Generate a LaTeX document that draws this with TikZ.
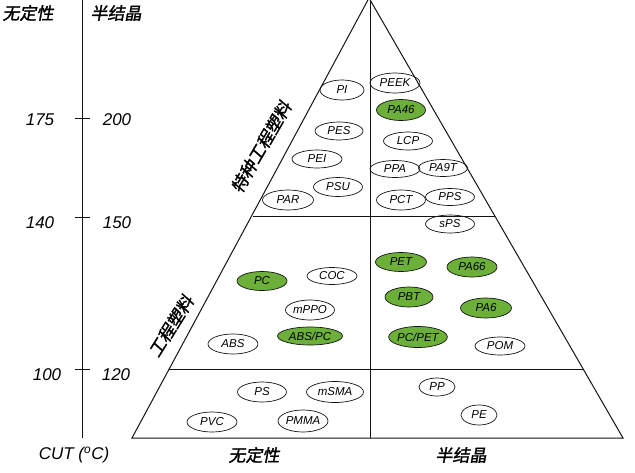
\documentclass[tikz,border=0pt]{standalone}
\usepackage{fontspec}
\setmainfont{Liberation Sans}
\newfontfamily\cjk[FakeSlant=0.18,FakeBold=1.5]{Noto Sans CJK SC}
\usetikzlibrary{shapes.geometric}
\definecolor{pgreen}{RGB}{108,176,58}
\definecolor{lineblk}{RGB}{20,20,20}
\begin{document}
\begin{tikzpicture}[x=1pt,y=-1pt,
  ell/.style={ellipse,draw=lineblk,line width=0.7pt,inner sep=0pt,font=\fontsize{11.5}{12}\selectfont\itshape},
  gell/.style={ell,fill=pgreen},
  frame/.style={draw=lineblk,line width=1pt},
  num/.style={font=\fontsize{17}{18}\selectfont\itshape,inner sep=0pt},
  zh/.style={font=\fontsize{17}{18}\selectfont\cjk,inner sep=0pt}]
\useasboundingbox[fill=white] (0,0) rectangle (635,472);
% triangle
\coordinate (apex) at (369,-2);
\coordinate (bl) at (132,438);
\coordinate (br) at (623,438);
\coordinate (l1) at (253,216);
\coordinate (r1) at (495,216);
\coordinate (l2) at (169,369);
\coordinate (r2) at (583,369);
\coordinate (vtop) at (370,-2);
\coordinate (vbot) at (370,438);
\draw[frame] (apex) -- (bl) -- (br) -- cycle;
\draw[frame] (l1) -- (r1);
\draw[frame] (l2) -- (r2);
\draw[frame] (vtop) -- (vbot);
% axis
\coordinate (atop) at (82,0);
\coordinate (abot) at (82,438);
\draw[frame] (atop) -- (abot);
\foreach \yy/\nm in {118/ta,217/tb,369/tc}{
  \coordinate (\nm l) at (75,\yy);
  \coordinate (\nm r) at (90,\yy);
  \draw[frame] (\nm l) -- (\nm r);
}
% axis labels
\node[zh] (hA) at (28,13) {无定性};
\node[zh] (hS) at (116,13) {半结晶};
\node[num] (n175) at (40,120) {175};
\node[num] (n200) at (117,120) {200};
\node[num] (n140) at (40,223) {140};
\node[num] (n150) at (117,223) {150};
\node[num] (n100) at (47,375) {100};
\node[num] (n120) at (116,375) {120};
\node[num] (cut) at (74,455) {CUT (\textsuperscript{o}C)};
\node[zh] (bA) at (254,455) {无定性};
\node[zh] (bS) at (461,455) {半结晶};
\node[zh,rotate=60] (spec) at (261,147) {特种工程塑料};
\node[zh,rotate=58] (eng) at (171,326) {工程塑料};
% ellipses
\node[ell,minimum width=44pt,minimum height=20pt] (PI) at (342,90) {PI};
\node[ell,minimum width=48pt,minimum height=18pt] (PES) at (339,131) {PES};
\node[ell,minimum width=50pt,minimum height=18pt] (PEI) at (317,159) {PEI};
\node[ell,minimum width=49pt,minimum height=19pt] (PSU) at (338,187) {PSU};
\node[ell,minimum width=51pt,minimum height=20pt] (PAR) at (288,200) {PAR};
\node[ell,minimum width=50pt,minimum height=20pt] (PEEK) at (395,83) {PEEK};
\node[gell,minimum width=49pt,minimum height=21pt] (PA46) at (401,110) {PA46};
\node[ell,minimum width=49pt,minimum height=18pt] (LCP) at (408,141) {LCP};
\node[ell,minimum width=50pt,minimum height=17pt] (PPA) at (395,169) {PPA};
\node[ell,minimum width=49pt,minimum height=17pt] (PA9T) at (443,168) {PA9T};
\node[ell,minimum width=49pt,minimum height=20pt] (PCT) at (401,200) {PCT};
\node[ell,minimum width=49pt,minimum height=17pt] (PPS) at (450,197) {PPS};
\node[ell,minimum width=49pt,minimum height=18pt] (sPS) at (450,224) {sPS};
\node[gell,minimum width=50pt,minimum height=19pt] (PC) at (262,281) {PC};
\node[ell,minimum width=50pt,minimum height=17pt] (COC) at (332,276) {COC};
\node[ell,minimum width=49pt,minimum height=20pt] (mPPO) at (310,310) {mPPO};
\node[gell,minimum width=65pt,minimum height=18pt] (ABSPC) at (310,336) {ABS/PC};
\node[ell,minimum width=50pt,minimum height=20pt] (ABS) at (233,344) {ABS};
\node[gell,minimum width=51pt,minimum height=19pt] (PET) at (401,262) {PET};
\node[gell,minimum width=50pt,minimum height=20pt] (PA66) at (472,267) {PA66};
\node[gell,minimum width=48pt,minimum height=20pt] (PBT) at (409,297) {PBT};
\node[gell,minimum width=51pt,minimum height=20pt] (PA6) at (486,308) {PA6};
\node[gell,minimum width=54pt,minimum height=21pt] (PCPET) at (418,337) {PC/PET};
\node[ell,minimum width=50pt,minimum height=18pt] (POM) at (500,346) {POM};
\node[ell,minimum width=49pt,minimum height=20pt] (PS) at (262,392) {PS};
\node[ell,minimum width=57pt,minimum height=21pt] (mSMA) at (335,392) {mSMA};
\node[ell,minimum width=50pt,minimum height=20pt] (PVC) at (212,422) {PVC};
\node[ell,minimum width=50pt,minimum height=22pt] (PMMA) at (303,421) {PMMA};
\node[ell,minimum width=36pt,minimum height=18pt] (PP) at (437,387) {PP};
\node[ell,minimum width=36pt,minimum height=20pt] (PE) at (479,415) {PE};
\end{tikzpicture}
\end{document}
